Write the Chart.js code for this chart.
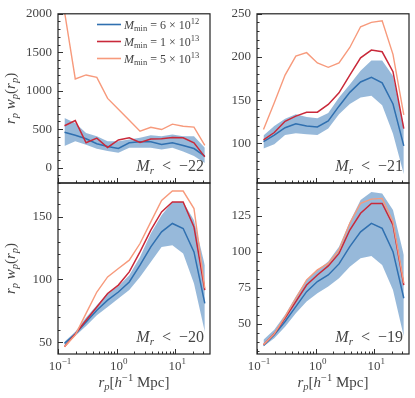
<!DOCTYPE html>
<html>
<head>
<meta charset="utf-8">
<script src="https://cdn.jsdelivr.net/npm/chart.js@4.4.0/dist/chart.umd.min.js"></script>
<style>
  html, body { margin: 0; padding: 0; background: #fff; }
  #wrap { position: relative; width: 415px; height: 398px; }
  #wrap canvas { position: absolute; left: 0; top: 0; }
</style>
</head>
<body>
<div id="wrap">
  <canvas id="c22" width="415" height="398"></canvas>
  <canvas id="c21" width="415" height="398"></canvas>
  <canvas id="c20" width="415" height="398"></canvas>
  <canvas id="c19" width="415" height="398"></canvas>
</div>
<script>
// projected separation bins (h^-1 Mpc)
const rp = [0.129, 0.197, 0.301, 0.459, 0.701, 1.07, 1.64, 2.50, 3.82, 5.83, 8.91, 13.6, 20.8, 31.8];
const xTicks = [0.1, 1, 10];

// M_r < -22
const m22Low    = [280, 344, 297, 245, 215, 193, 258, 258, 258, 237, 258, 210, 150, 60];
const m22High   = [645, 580, 451, 409, 344, 344, 366, 387, 422, 409, 430, 409, 409, 258];
const m22Blue   = [460, 420, 375, 310, 275, 250, 323, 335, 335, 301, 323, 287, 248, 150];
const m22Red    = [545, 612, 323, 383, 262, 360, 387, 328, 372, 376, 392, 387, 323, 140];
const m22Orange = [2030, 1153, 1205, 1174, 900, 760, 615, 473, 525, 495, 565, 538, 527, 290];
const m22Ticks  = [0, 500, 1000, 1500, 2000];

// M_r < -21
const m21Low    = [94, 99, 109.5, 111.5, 110.5, 109.5, 117, 133.5, 145.5, 153, 155, 144, 111, 64];
const m21High   = [109, 120, 128.5, 133.5, 130.5, 129, 135, 153, 168, 184, 196, 196, 178, 120];
const m21Blue   = [102, 109.5, 118, 122.5, 120, 119, 126, 143, 159, 171, 176.5, 170, 145.5, 97];
const m21Red    = [104, 112.5, 125.5, 131.5, 136, 136, 145, 158.5, 179, 199, 208, 206, 183, 117];
const m21Orange = [116, 147, 179, 201, 205, 193, 188, 193, 211, 235, 240, 242, 203, 133];
const m21Ticks  = [100, 150, 200, 250];

// M_r < -20
const m20Low    = [46.3, 54.8, 62.8, 71.5, 78, 84.8, 91.5, 102, 114, 126, 127.3, 120.7, 96.8, 58.2];
const m20High   = [50.2, 58.2, 69.7, 79.5, 88.8, 94.6, 103.4, 118, 136.7, 151.2, 161.9, 161.9, 147.3, 111.4];
const m20Blue   = [49, 56.4, 66, 75.5, 83.5, 90, 98, 111.4, 126, 138, 144.7, 140.7, 122, 80.9];
const m20Red    = [46.3, 56.4, 67.5, 78, 88.8, 95.5, 106, 122, 139.3, 153.9, 161.9, 161.9, 142, 91.5];
const m20Orange = [46.3, 55.6, 72.9, 90, 102, 108.8, 115.4, 128.7, 146, 163, 170.6, 170.6, 156.6, 93];
const m20Ticks  = [50, 100, 150];

// M_r < -19
const m19Low    = [34.2, 40, 48, 57.4, 65.5, 71.3, 75.9, 81.7, 89.8, 95.6, 97.2, 91, 73.6, 41.2];
const m19High   = [38.9, 45.8, 56.3, 69, 80.6, 87.5, 93.3, 103.7, 121, 136.1, 141.8, 140.7, 129.2, 97.9];
const m19Blue   = [35, 42.4, 51.6, 62, 72.4, 79.4, 84, 91.7, 103.7, 114, 119.9, 116.4, 100.2, 67.8];
const m19Red    = [35.4, 43, 54, 65.5, 77, 84, 90.3, 99, 115.3, 126.9, 133.8, 133.8, 118.8, 77];
const m19Orange = [35.4, 43, 55, 67.8, 80.6, 87.5, 92, 101.4, 120, 133.8, 136.8, 137.3, 121, 78.3];
const m19Ticks  = [50, 75, 100, 125];

const legendLabels = [["6", "12"], ["1", "13"], ["5", "13"]];

const W = 415, H = 398, YW = 40;
const SERIF = '"Liberation Serif", "DejaVu Serif", serif';
const BLUE = "#3070b0", RED = "#c9293a", ORANGE = "#f79a7c";
const BAND = "rgba(48,115,182,0.5)";
const TEXT = "#444";

const pts = vals => rp.map((x, i) => ({ x, y: vals[i] }));

// draw a run of text pieces [text, font, dy]
function rich(ctx, parts, x, y, align) {
  let w = 0;
  parts.forEach(p => { ctx.font = p[1]; w += ctx.measureText(p[0]).width; });
  let cx = align === "right" ? x - w : align === "center" ? x - w / 2 : x;
  parts.forEach(p => {
    ctx.font = p[1];
    ctx.fillText(p[0], cx, y + (p[2] || 0));
    cx += ctx.measureText(p[0]).width;
  });
}
const f = (size, it) => (it ? "italic " : "") + size + "px " + SERIF;

function makePanel(p) {
  const [L, T, R, B] = p.box;

  const decor = {
    id: "decor",
    afterDraw(chart) {
      const ctx = chart.ctx;
      const a = chart.chartArea;
      const xs = chart.scales.x, ys = chart.scales.y;
      ctx.save();

      // inward ticks: left and bottom
      ctx.strokeStyle = "#333";
      ctx.lineWidth = 1;
      ctx.beginPath();
      p.ticks.forEach(v => {
        const y = Math.round(ys.getPixelForValue(v)) + 0.5;
        ctx.moveTo(a.left, y); ctx.lineTo(a.left + 5, y);
      });
      for (let v = Math.ceil(p.y[0] / p.minor) * p.minor; v <= p.y[1] + 1e-9; v += p.minor) {
        const y = Math.round(ys.getPixelForValue(v)) + 0.5;
        ctx.moveTo(a.left, y); ctx.lineTo(a.left + 2.5, y);
      }
      for (let e = -1; e <= 1; e++) {
        for (let m = 1; m <= 9; m++) {
          const v = m * Math.pow(10, e);
          if (v < xs.min || v > xs.max) continue;
          const x = Math.round(xs.getPixelForValue(v)) + 0.5;
          ctx.moveTo(x, a.bottom); ctx.lineTo(x, a.bottom - (m === 1 ? 5 : 2.5));
        }
      }
      ctx.stroke();

      // frame
      ctx.strokeStyle = "#222";
      ctx.lineWidth = 1.2;
      ctx.strokeRect(a.left, a.top, a.right - a.left, a.bottom - a.top);

      ctx.fillStyle = TEXT;
      ctx.textBaseline = "alphabetic";

      // panel label
      rich(ctx, [["M", f(16, true)], ["r", f(11, true), 3], ["  <  −" + p.mag, f(16)]],
        a.right - 6, a.bottom - 12, "right");

      // y title on left column
      if (p.ytitle) {
        ctx.save();
        ctx.translate(15, (a.top + a.bottom) / 2);
        ctx.rotate(-Math.PI / 2);
        rich(ctx, [["r", f(15, true)], ["p", f(10.5, true), 3], [" w", f(15, true)],
          ["p", f(10.5, true), 3], ["(", f(15)], ["r", f(15, true)], ["p", f(10.5, true), 3], [")", f(15)]],
          0, 0, "center");
        ctx.restore();
      }

      // x tick labels + title on bottom row
      if (p.xlab) {
        xTicks.forEach(v => {
          const e = Math.round(Math.log10(v));
          rich(ctx, [["10", f(13)], [e < 0 ? "−" + (-e) : String(e), f(9), -6]],
            xs.getPixelForValue(v) + 2, 370, "center");
        });
        rich(ctx, [["r", f(15, true)], ["p", f(10.5, true), 3], ["[", f(15)], ["h", f(15, true)],
          ["−1", f(10.5), -6], [" Mpc]", f(15)]], (a.left + a.right) / 2, 387, "center");
      }

      // legend
      if (p.legend) {
        const cols = [BLUE, RED, ORANGE];
        legendLabels.forEach((lab, i) => {
          const y = 24.5 + i * 17;
          ctx.strokeStyle = cols[i];
          ctx.lineWidth = 1.6;
          ctx.beginPath(); ctx.moveTo(97, y); ctx.lineTo(121, y); ctx.stroke();
          ctx.fillStyle = TEXT;
          rich(ctx, [["M", f(12, true)], ["min", f(8.5), 2.5], [" = " + lab[0] + " × 10", f(12)],
            [lab[1], f(8.5), -5]], 124, y + 4, "left");
        });
      }
      ctx.restore();
    }
  };

  return new Chart(document.getElementById(p.id), {
    type: "line",
    data: {
      datasets: [
        { data: pts(p.orange), borderColor: ORANGE, borderWidth: 1.4, order: 1 },
        { data: pts(p.red), borderColor: RED, borderWidth: 1.5, order: 2 },
        { data: pts(p.blue), borderColor: BLUE, borderWidth: 1.5, order: 3 },
        { data: pts(p.high), borderWidth: 0, borderColor: "rgba(0,0,0,0)", backgroundColor: BAND, fill: "+1", order: 4 },
        { data: pts(p.low), borderWidth: 0, borderColor: "rgba(0,0,0,0)", order: 5 }
      ]
    },
    options: {
      responsive: false,
      animation: false,
      devicePixelRatio: 1,
      layout: { padding: { left: L - YW, top: T, right: W - R, bottom: H - B } },
      plugins: { legend: { display: false }, tooltip: { enabled: false } },
      elements: { point: { radius: 0 }, line: { tension: 0 } },
      scales: {
        x: {
          type: "logarithmic", min: 0.1, max: 39, display: false,
          afterFit: s => { s.height = 0; }
        },
        y: {
          type: "linear", min: p.y[0], max: p.y[1],
          grid: { display: false, drawTicks: false },
          border: { display: false },
          afterBuildTicks: s => { s.ticks = p.ticks.map(v => ({ value: v })); },
          afterFit: s => { s.width = YW; },
          ticks: { color: TEXT, padding: 6, font: { family: SERIF, size: 13 }, callback: v => String(v) }
        }
      }
    },
    plugins: [decor]
  });
}

makePanel({ id: "c22", box: [58, 10, 210, 183], y: [-200, 2000], ticks: m22Ticks, minor: 100, mag: "22",
  low: m22Low, high: m22High, blue: m22Blue, red: m22Red, orange: m22Orange, legend: true, ytitle: true });
makePanel({ id: "c21", box: [257, 10, 409, 183], y: [54, 250], ticks: m21Ticks, minor: 10, mag: "21",
  low: m21Low, high: m21High, blue: m21Blue, red: m21Red, orange: m21Orange });
makePanel({ id: "c20", box: [58, 183, 210, 354], y: [40.5, 177], ticks: m20Ticks, minor: 10, mag: "20",
  low: m20Low, high: m20High, blue: m20Blue, red: m20Red, orange: m20Orange, ytitle: true, xlab: true });
makePanel({ id: "c19", box: [257, 183, 409, 354], y: [29, 148], ticks: m19Ticks, minor: 6.25, mag: "19",
  low: m19Low, high: m19High, blue: m19Blue, red: m19Red, orange: m19Orange, xlab: true });
</script>
</body>
</html>
